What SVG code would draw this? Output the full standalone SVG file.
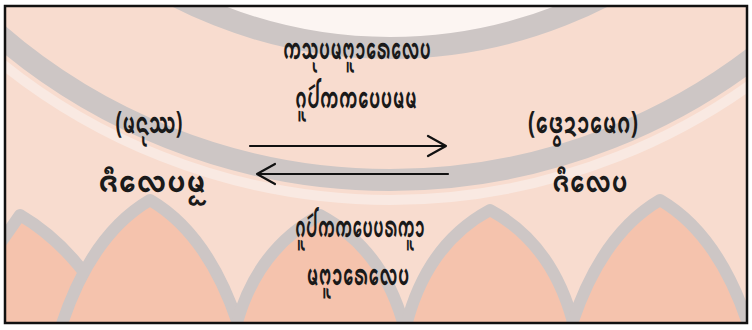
<svg xmlns="http://www.w3.org/2000/svg" width="752" height="330" viewBox="0 0 752 330">
<defs>
<style>
.page{fill:#ffffff}
.frame-bg{fill:#f8dccf}
.frame{fill:none;stroke:#111111;stroke-width:2.5}
.wm-white{fill:#fcf5f2}
.wm-grey{fill:none;stroke:#cdc6c5;stroke-width:22}
.wm-band{fill:none;stroke:#f9e9e2;stroke-width:10}
.petal{fill:#f5c3ad;stroke:#cdc6c5;stroke-width:12;stroke-linejoin:round}
.lbl{font-family:"Noto Sans Tai Tham","Noto Sans","DejaVu Sans",sans-serif;font-size:30px;font-weight:bold;fill:#1a1a1a;text-anchor:middle}
.conn{stroke:#111111;stroke-width:2.2;fill:none;stroke-linecap:round;stroke-linejoin:round}
</style>
<clipPath id="inner"><rect x="5" y="6" width="742" height="317"/></clipPath>
</defs>
<rect class="page" x="0" y="0" width="752" height="330"/>
<g id="watermark" clip-path="url(#inner)">
<rect class="frame-bg" x="5" y="6" width="742" height="317"/>
<circle class="wm-white" cx="390" cy="-420" r="458"/>
<circle class="wm-grey" cx="390" cy="-420" r="468"/>
<circle class="wm-grey" cx="390" cy="-420" r="600"/>
<circle class="wm-band" cx="390" cy="-420" r="620"/>
<path class="petal" d="M20 215 Q80 250 120 330 L-60 330 Z"/>
<path class="petal" d="M150 200 Q210 235 240 330 L60 330 Q90 235 150 200 Z"/>
<path class="petal" d="M320 215 Q385 250 405 330 L235 330 Q255 250 320 215 Z"/>
<path class="petal" d="M490 210 Q555 245 575 330 L405 330 Q425 245 490 210 Z"/>
<path class="petal" d="M660 200 Q720 235 750 330 L570 330 Q600 235 660 200 Z"/>
</g>
<rect class="frame" x="5" y="6" width="742" height="317"/>
<g id="connectors">
<path class="conn" d="M250 146 H446 M428 136 L446 146 L428 156"/>
<path class="conn" d="M448 174 H257 M275 164 L257 174 L275 184"/>
</g>
<g id="label-top-1"><text class="lbl" x="357" y="59" textLength="148" lengthAdjust="spacingAndGlyphs">ᨠᩈᩩᨷᨾᨻᩪᩣᩁᩮᩮᩃᨷ</text></g>
<g id="label-top-2"><text class="lbl" x="356" y="108" textLength="122" lengthAdjust="spacingAndGlyphs">ᨣᩪᨸᩢᨠᨠᨷᩮᨷᨾᨾ</text></g>
<g id="node-left">
<text class="lbl" x="149" y="133" textLength="67" lengthAdjust="spacingAndGlyphs">(ᨾᨶᩩᩔ)</text>
<text class="lbl" x="152" y="192" textLength="108" lengthAdjust="spacingAndGlyphs">ᨩᩥᩮᩃᨷᨾᩬ</text>
</g>
<g id="node-right">
<text class="lbl" x="583" y="133" textLength="110" lengthAdjust="spacingAndGlyphs">(ᩮᨴ᩠ᩅᨯᩣᩮᨾᨣ)</text>
<text class="lbl" x="590" y="192" textLength="76" lengthAdjust="spacingAndGlyphs">ᨩᩥᩮᩃᨷ</text>
</g>
<g id="label-bottom-1"><text class="lbl" x="360" y="237" textLength="130" lengthAdjust="spacingAndGlyphs">ᨣᩪᨸᩢᨠᨠᨷᩮᨷᩁᨠᩪᩣ</text></g>
<g id="label-bottom-2"><text class="lbl" x="358" y="285" textLength="103" lengthAdjust="spacingAndGlyphs">ᨾᨻᩪᩣᩁᩮᩮᩃᨷ</text></g>
</svg>
